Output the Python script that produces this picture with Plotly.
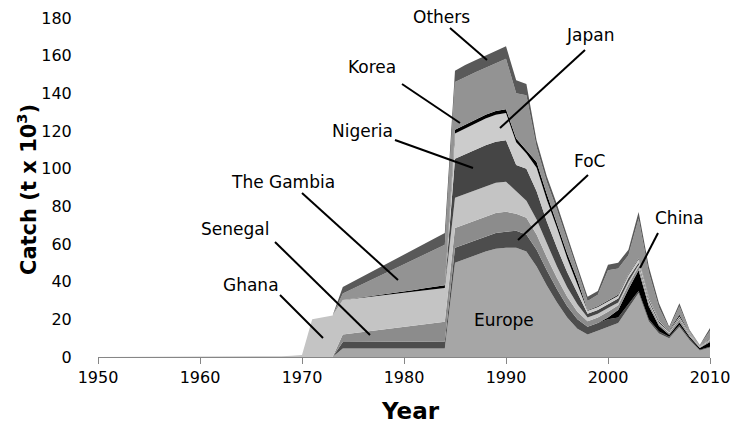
import plotly.graph_objects as go

years = list(range(1950, 2011))

Z16 = [0]*16  # 1950-1965 no catch

europe = Z16 + [0, 0, 0, 0, 0, 0, 0, 0,
                4.5, 4.5, 4.5, 4.5, 4.5, 4.5, 4.5, 4.5, 4.5, 4.5, 4.5,
                50, 52, 54, 56, 57.5, 58,
                58, 56, 48, 38, 29, 21, 15, 12, 14, 16,
                18, 26, 34, 19, 12.5, 10, 16, 9, 3.5, 5]
foc = Z16 + [0, 0, 0, 0, 0, 0, 0, 0,
             3.5, 3.5, 3.6, 3.6, 3.6, 3.6, 3.6, 3.6, 3.7, 3.7, 3.7,
             8, 8, 8.2, 8.3, 8.4, 8.5,
             9, 9, 9, 8, 7, 6, 5, 4, 4, 4,
             3, 2, 1, 1, 1, 0.8, 1, 0.8, 0.3, 0.5]
china = Z16 + [0, 0, 0, 0, 0, 0, 0, 0,
               0, 0, 0, 0, 0, 0, 0, 0, 0, 0, 0,
               0, 0, 0, 0, 0, 0,
               0, 0, 0, 0, 0, 0, 0, 0, 0, 1,
               4, 8, 11, 7, 3, 1, 1.5, 1, 1, 2.5]
senegal = Z16 + [0, 0, 0, 0, 0, 0, 0, 0,
                 4.0, 4.7, 5.3, 6.0, 6.6, 7.3, 7.9, 8.6, 9.2, 9.9, 10.5,
                 10.5, 10.5, 10.5, 10.6, 10.6, 10.6,
                 9, 9, 8, 7, 6, 5, 4, 3, 3, 3,
                 2.5, 2.5, 2, 1.5, 1, 1, 1.5, 0.8, 0.3, 0.8]
ghana = Z16 + [0.1, 0.2, 0.4, 0.6, 1.0, 20, 21, 22,
               18.3, 18.3, 18.3, 18.2, 18.2, 18.1, 18.1, 18.0, 18.0, 17.9, 17.9,
               16, 16, 16, 16, 16, 16,
               12, 9, 8, 7, 6, 5, 4, 2, 2, 2,
               1.5, 1.5, 1, 1, 0.5, 0.5, 0.5, 0.3, 0.2, 0.3]
nigeria = Z16 + [0, 0, 0, 0, 0, 0, 0, 0,
                 0, 0, 0, 0, 0, 0, 0, 0, 0, 0, 0,
                 20.7, 21, 21.3, 21.6, 21.8, 22,
                 14, 17, 15, 12, 10, 8, 6, 2, 2, 2,
                 2, 2, 1, 1, 1, 0.5, 0.5, 0.5, 0.2, 0.3]
japan = Z16 + [0, 0, 0, 0, 0, 0, 0, 0,
               0, 0, 0, 0, 0, 0, 0, 0, 0, 0, 0,
               13.5, 13.7, 13.9, 14.1, 14.3, 14.5,
               12, 8, 12.5, 11.5, 10.5, 7.5, 4.5, 1.5, 1.5, 1.5,
               1.5, 1.5, 2, 1, 0.5, 0.3, 0.5, 0.3, 0.2, 0.3]
korea = Z16 + [0, 0, 0, 0, 0, 0, 0, 0,
               0, 0, 0, 0.1, 0.3, 0.5, 0.7, 0.9, 1.1, 1.3, 1.5,
               2, 2, 2, 2, 2, 2,
               2, 2, 3, 3, 2.7, 2.5, 2.5, 0.3, 0.5, 0.5,
               0.5, 0.5, 0.5, 0.5, 0.3, 0.2, 1, 0.2, 0.1, 0.3]
gambia = Z16 + [0, 0, 0, 0, 0, 0, 0, 0,
                3.4, 5.3, 7.2, 9.1, 10.9, 12.7, 14.4, 16.2, 18.0, 19.7, 21.5,
                25.3, 25.6, 25.3, 25, 25.4, 26.8,
                24, 29, 8, 6.5, 7, 6.5, 5, 5, 6, 16,
                14, 10, 21, 13, 6.5, 1, 4.5, 0.9, 0.4, 4]
others = Z16 + [0, 0, 0, 0, 0, 0, 0, 0,
                3.5, 3.8, 4.0, 4.3, 4.6, 4.8, 5.1, 5.4, 5.7, 5.9, 6.2,
                6, 6.2, 6.3, 6.4, 6.5, 6.6,
                7, 6, 3.5, 3, 2.8, 2.5, 2, 2.2, 2, 3,
                3, 3, 3.5, 3, 2.3, 0.7, 1.6, 0.5, 0.2, 1.4]

series_names = ["Europe", "FoC", "China", "Senegal", "Ghana", "Nigeria",
                "Japan", "Korea", "The Gambia", "Others"]
series_values = [europe, foc, china, senegal, ghana, nigeria,
                 japan, korea, gambia, others]
series_colors = ["#a6a6a6", "#4d4d4d", "#000000", "#8c8c8c", "#c4c4c4",
                 "#454545", "#cccccc", "#000000", "#939393", "#595959"]

fig = go.Figure()
for name, vals, col in zip(series_names, series_values, series_colors):
    fig.add_trace(go.Scatter(x=years, y=vals, name=name, mode="lines",
                             stackgroup="one", line=dict(width=0, color=col),
                             fillcolor=col, showlegend=False))

W, H = 734, 431
# plot area in page pixels
L, R, T, B = 98, 710, 18, 357


def px(xp):
    return (xp - L) / (R - L)


def py(yp):
    return (B - yp) / (B - T)


FONT = "DejaVu Sans"
labels = [
    ("Others", 441, 17, 450, 28, 487, 60),
    ("Japan", 590, 35, 585, 50, 500, 128),
    ("Korea", 372, 67, 402, 84, 460, 123),
    ("Nigeria", 362, 131, 395, 140, 473, 168),
    ("The Gambia", 283, 182, 302, 193, 398, 280),
    ("Senegal", 235, 229, 275, 242, 370, 335),
    ("Ghana", 251, 285, 280, 295, 323, 338),
    ("FoC", 589, 161, 588, 175, 518, 240),
    ("China", 679, 218, 658, 233, 640, 268),
    ("Europe", 504, 320, None, None, None, None),
]
for text, tx, ty, x0, y0, x1, y1 in labels:
    fig.add_annotation(text=text, xref="paper", yref="paper", x=px(tx), y=py(ty),
                       showarrow=False, xanchor="center", yanchor="middle",
                       font=dict(family=FONT, size=17, color="#000000"))
    if x0 is not None:
        fig.add_shape(type="line", xref="paper", yref="paper",
                      x0=px(x0), y0=py(y0), x1=px(x1), y1=py(y1),
                      line=dict(color="#000000", width=2))

fig.add_annotation(text="<b>Year</b>", xref="paper", yref="paper",
                   x=px(410), y=py(411), showarrow=False,
                   xanchor="center", yanchor="middle",
                   font=dict(family=FONT, size=23, color="#000000"))
fig.add_annotation(text="<b>Catch (t x 10<sup>3</sup>)</b>", xref="paper", yref="paper",
                   x=px(27), y=py(190), showarrow=False, textangle=-90,
                   xanchor="center", yanchor="middle",
                   font=dict(family=FONT, size=21, color="#000000"))

fig.update_layout(
    width=W, height=H,
    margin=dict(l=L, r=W - R, t=T, b=H - B, pad=0),
    paper_bgcolor="white", plot_bgcolor="white",
    font=dict(family=FONT, size=16, color="#000000"),
)
fig.update_xaxes(range=[1950, 2010], tickmode="array",
                 tickvals=[1950, 1960, 1970, 1980, 1990, 2000, 2010],
                 showgrid=False, zeroline=False, showline=True,
                 linecolor="#868686", linewidth=1, ticks="outside",
                 ticklen=6, tickcolor="#868686", automargin=False,
                 ticklabeloverflow="allow",
                 tickfont=dict(family=FONT, size=16, color="#000000"))
fig.update_yaxes(range=[0, 180], dtick=20, showgrid=False, zeroline=False,
                 showline=False, ticks="outside", ticklen=22,
                 tickcolor="rgba(0,0,0,0)", automargin=False,
                 tickfont=dict(family=FONT, size=16, color="#000000"))

fig.write_html("out.html",
               config={"displayModeBar": False},
               post_script="document.body.style.margin='0';"
                           "document.body.style.overflow='hidden';")
